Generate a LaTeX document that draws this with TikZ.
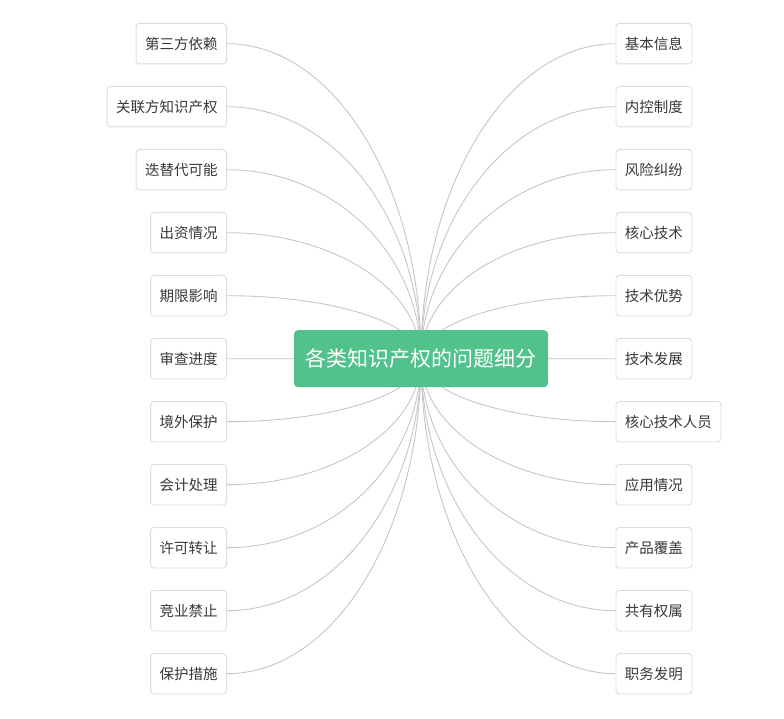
\documentclass[tikz,border=0pt]{standalone}
\usepackage{fontspec}
\setmainfont{Noto Sans CJK SC}
\usetikzlibrary{calc}
\definecolor{rootgreen}{HTML}{52C28C}
\definecolor{linegray}{HTML}{C6C6C6}
\definecolor{boxgray}{HTML}{DCDCDC}
\definecolor{txt}{HTML}{383838}
\pgfdeclarelayer{bg}
\pgfsetlayers{bg,main}
\begin{document}
\begin{tikzpicture}[x=1pt,y=-1pt,
  leaf/.style={draw=boxgray, fill=white, rounded corners=3.5pt, line width=0.9pt,
    minimum height=40.5pt, inner xsep=9pt, inner ysep=0pt, text=txt,
    font=\fontsize{14.5}{17}\selectfont},
  rootbox/.style={fill=rootgreen, rounded corners=4pt, minimum width=254pt,
    minimum height=57pt, inner sep=0pt, text=white, font=\fontsize{21}{25}\selectfont},
  conn/.style={draw=linegray, line width=0.9pt}]
\useasboundingbox (0,0) rectangle (784,719);
\node[rootbox] (root) at (421,358.7) {各类知识产权的问题细分};
\foreach \t [count=\k from 0] in {第三方依赖,关联方知识产权,迭替代可能,出资情况,期限影响,审查进度,境外保护,会计处理,许可转让,竞业禁止,保护措施}{
  \node[leaf, anchor=east] (L\k) at (227,43.7+63*\k) {\t};
  \begin{pgfonlayer}{bg}
  \draw[conn] (L\k.east) .. controls ($(L\k.east)!0.5523!(L\k.east -| root.center)$)
     and ($(root.center)!0.5523!(L\k.east -| root.center)$) .. (root.center);
  \end{pgfonlayer}
}
\foreach \t [count=\k from 0] in {基本信息,内控制度,风险纠纷,核心技术,技术优势,技术发展,核心技术人员,应用情况,产品覆盖,共有权属,职务发明}{
  \node[leaf, anchor=west] (R\k) at (615.5,43.7+63*\k) {\t};
  \begin{pgfonlayer}{bg}
  \draw[conn] (R\k.west) .. controls ($(R\k.west)!0.5523!(R\k.west -| root.center)$)
     and ($(root.center)!0.5523!(R\k.west -| root.center)$) .. (root.center);
  \end{pgfonlayer}
}
\end{tikzpicture}
\end{document}
